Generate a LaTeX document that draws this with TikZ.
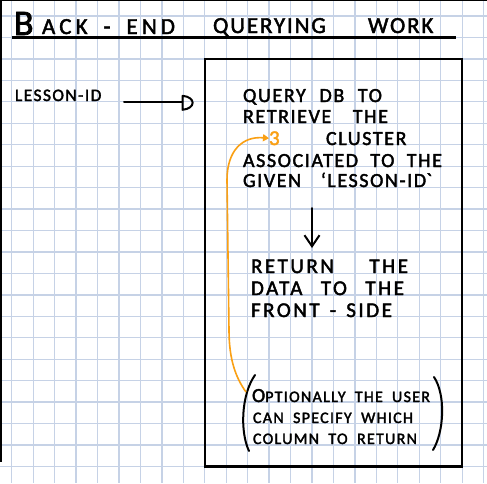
\documentclass[tikz,border=0pt]{standalone}
\usepackage{fontspec}
\setmainfont{Carlito}[LetterSpace=8, FakeBold=2]
\newfontfamily\widehand{Carlito}[LetterSpace=18, FakeBold=2]
\newfontfamily\midhand{Carlito}[LetterSpace=12, FakeBold=2]
\usetikzlibrary{arrows.meta}
\definecolor{gridblue}{RGB}{198,210,230}
\definecolor{hlorange}{RGB}{250,160,20}
% stretch the word gaps of one handwritten line to a given width
\newcommand\spreadline[2]{\makebox[#1][s]{#2}}

\begin{document}
\begin{tikzpicture}[x=1pt,y=-1pt,
  gridline/.style={gridblue, line width=1.3pt},
  ink/.style={black, line width=2pt, line cap=round, line join=round},
  hw/.style={inner sep=0pt, outer sep=0pt, anchor=base west},
  bigtitle/.style={hw, font=\fontsize{36}{40}\selectfont},
  titlewide/.style={hw, font=\widehand\fontsize{23}{26}\selectfont},
  titletext/.style={hw, font=\fontsize{23}{26}\selectfont},
  labeltext/.style={hw, font=\fontsize{17.5}{20}\selectfont},
  bodytext/.style={hw, font=\fontsize{20}{24}\selectfont},
  returntext/.style={hw, font=\midhand\fontsize{21}{24}\selectfont},
  notetext/.style={hw, font=\fontsize{16}{20}\selectfont},
  marktext/.style={hw, text=hlorange, font=\fontsize{21}{22}\selectfont},
]
\useasboundingbox (0,0) rectangle (487,483);
\fill[white] (0,0) rectangle (487,483);

% squared paper
\foreach \k in {0,...,22}
  \draw[gridline] ({11.7+21.45*\k},0) -- ({11.7+21.45*\k},483);
\foreach \k in {0,...,21}
  \draw[gridline] (0,{16+21.45*\k}) -- (487,{16+21.45*\k});

% page edges
\draw[black, line width=4pt] (0,0) -- (0,462);
\draw[black, line width=2pt] (0,0) -- (487,0);

% heading
\node[bigtitle]  (tB)    at (14,35) {B};
\node[titlewide] (tBack) at (42,34) {\spreadline{133pt}{ACK - END}};
\node[titletext] (tQry)  at (213,33) {QUERYING};
\node[titletext] (tWork) at (368,33) {WORK};
\draw[ink, line width=2.2pt, line cap=butt] (12,37.5) -- (456,37.5);

% back-end box
\draw[black, line width=2.6pt] (204.8,58.9) rectangle (462.1,466.4);

% input
\node[labeltext] (lesson) at (15,101) {LESSON-ID};
\coordinate (inA) at (124,102.3);
\coordinate (inB) at (182.5,102.3);
\draw[ink] (inA) -- (inB);
\draw[ink] (182.5,95.8) -- (182.5,109.8)
  .. controls (196,108.5) and (196,97) .. (182.5,95.8);

% query step
\node[bodytext] (q1) at (243,102) {\spreadline{139pt}{QUERY DB TO}};
\node[bodytext] (q2) at (243,123) {\spreadline{145pt}{RETRIEVE THE}};
\node[marktext] (three) at (269,145) {3};
\node[bodytext] (q3) at (326,145) {CLUSTER};
\node[bodytext] (q4) at (243,167) {\spreadline{199pt}{ASSOCIATED TO THE}};
\node[bodytext] (q5) at (243,187) {\spreadline{189pt}{GIVEN \textquoteleft LESSON-ID\textasciigrave}};

\coordinate (dnA) at (312,208);
\coordinate (dnB) at (312,248);
\draw[ink, -{Straight Barb[length=11pt,width=15pt,line width=2pt]}] (dnA) -- (dnB);

% return step
\node[returntext] (r1) at (251,273) {\spreadline{157pt}{RETURN THE}};
\node[returntext] (r2) at (251,295) {\spreadline{153pt}{DATA TO THE}};
\node[returntext] (r3) at (251,317) {\spreadline{141pt}{FRONT - SIDE}};

% optional note in brackets
\node[notetext] (n1) at (252,402) {\spreadline{178pt}{{\fontsize{20}{20}\selectfont O}PTIONALLY THE USER}};
\node[notetext] (n2) at (253,423) {\spreadline{160pt}{CAN SPECIFY WHICH}};
\node[notetext] (n3) at (253,444) {\spreadline{164pt}{COLUMN TO RETURN}};
\draw[ink] (255,375) .. controls (241,395) and (240,432) .. (249,451);
\draw[ink] (434,377) .. controls (446,395) and (444,432) .. (433,450);

% the note feeds back into the cluster lookup
\coordinate (optq) at (246,392);
\draw[hlorange, line width=1.6pt, -{Triangle[length=6pt,width=7pt]}]
  (optq) .. controls (236,378) and (229,360) .. (229,330)
  -- (227,180) .. controls (227,150) and (243,136) .. (three.west);
\end{tikzpicture}
\end{document}
